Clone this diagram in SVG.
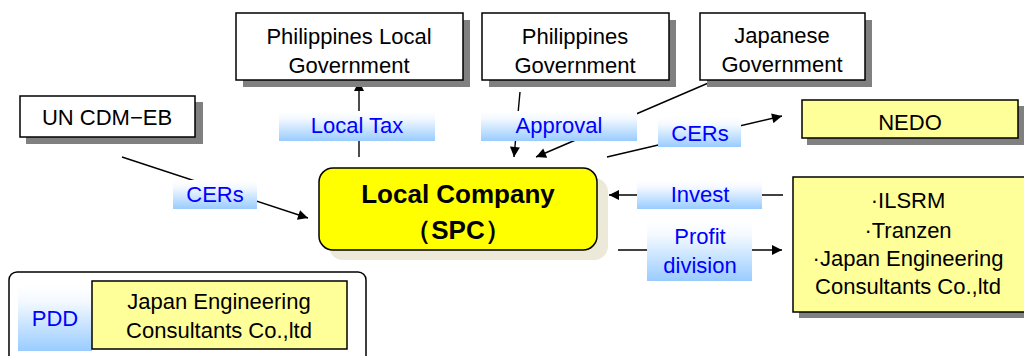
<svg xmlns="http://www.w3.org/2000/svg" width="1024" height="356" viewBox="0 0 1024 356">
<defs>
<linearGradient id="lbl" x1="0" y1="0" x2="0" y2="1">
<stop offset="0" stop-color="#FFFFFF"/>
<stop offset="0.25" stop-color="#F4F9FF"/>
<stop offset="1" stop-color="#99CCFF"/>
</linearGradient>
<marker id="arr" viewBox="0 0 10 10" refX="10" refY="5" markerWidth="11" markerHeight="10" markerUnits="userSpaceOnUse" orient="auto">
<path d="M0,0 L10,5 L0,10 z" fill="#000"/>
</marker>
</defs>
<style>
.box{fill:#FFFFFF;stroke:#000;stroke-width:1.5}
.ybox{fill:#FFFF99;stroke:#000;stroke-width:1.5}
.sh{fill:#808080}
.t{font-family:"Liberation Sans",Arial,sans-serif;font-size:22px;fill:#000;text-anchor:middle}
.b{font-family:"Liberation Sans",Arial,sans-serif;font-size:22px;fill:#0000FF;text-anchor:middle}
.big{font-family:"Liberation Sans",Arial,sans-serif;font-size:26px;font-weight:bold;fill:#000;text-anchor:middle}
.ln{stroke:#000;stroke-width:1.4;fill:none}
.lbl{fill:url(#lbl)}
</style>
<rect width="1024" height="356" fill="#FFFFFF"/>

<g id="connectors">
<line class="ln" x1="359" y1="157" x2="359" y2="81" marker-end="url(#arr)"/>
<line class="ln" x1="520" y1="92" x2="514" y2="157" marker-end="url(#arr)"/>
<line class="ln" x1="713" y1="81" x2="536" y2="157" marker-end="url(#arr)"/>
<line class="ln" x1="607" y1="157" x2="782" y2="116" marker-end="url(#arr)"/>
<line class="ln" x1="122" y1="157" x2="308" y2="218" marker-end="url(#arr)"/>
<line class="ln" x1="783" y1="195" x2="609" y2="195" marker-end="url(#arr)"/>
<line class="ln" x1="618" y1="250" x2="782" y2="250" marker-end="url(#arr)"/>
</g>

<g id="label-localtax">
<rect class="lbl" x="279" y="111" width="156" height="30"/>
<text class="b" x="357" y="133">Local Tax</text>
</g>
<g id="label-approval">
<rect class="lbl" x="481" y="111" width="156" height="30"/>
<text class="b" x="559" y="133">Approval</text>
</g>
<g id="label-cers-nedo">
<rect class="lbl" x="658" y="117" width="83" height="30"/>
<text class="b" x="700" y="141">CERs</text>
</g>
<g id="label-cers-un">
<rect class="lbl" x="173" y="180" width="84" height="29"/>
<text class="b" x="215" y="202">CERs</text>
</g>
<g id="label-invest">
<rect class="lbl" x="637" y="180" width="125" height="29"/>
<text class="b" x="700" y="202">Invest</text>
</g>
<g id="label-profit">
<rect class="lbl" x="647" y="220" width="105" height="61"/>
<text class="b" x="700" y="244">Profit</text>
<text class="b" x="700" y="273">division</text>
</g>

<g id="phil-local-gov">
<rect class="sh" x="243" y="20" width="227" height="67"/>
<rect class="box" x="236" y="13" width="227" height="67"/>
<text class="t" x="349" y="44">Philippines Local</text>
<text class="t" x="349" y="73">Government</text>
</g>
<g id="phil-gov">
<rect class="sh" x="489" y="20" width="187" height="67"/>
<rect class="box" x="482" y="13" width="187" height="67"/>
<text class="t" x="575" y="44">Philippines</text>
<text class="t" x="575" y="73">Government</text>
</g>
<g id="japan-gov">
<rect class="sh" x="707" y="20" width="165" height="67"/>
<rect class="box" x="700" y="13" width="165" height="67"/>
<text class="t" x="782" y="43">Japanese</text>
<text class="t" x="782" y="72">Government</text>
</g>
<g id="un-cdm-eb">
<rect class="sh" x="26" y="102" width="177" height="42"/>
<rect class="box" x="20" y="96" width="175" height="41"/>
<text class="t" x="107" y="125">UN CDM−EB</text>
</g>
<g id="nedo">
<rect class="sh" x="807" y="106" width="217" height="39"/>
<rect class="ybox" x="802" y="100" width="216" height="38"/>
<text class="t" x="910" y="130">NEDO</text>
</g>
<g id="local-company">
<rect x="329" y="178" width="279" height="82" rx="14" fill="#ECE9D8"/>
<rect x="319" y="168" width="278" height="82" rx="14" fill="#FFFF00" stroke="#000" stroke-width="1.5"/>
<text class="big" x="458" y="203">Local Company</text>
<text class="big" x="458" y="239">（SPC）</text>
</g>
<g id="investors">
<rect class="sh" x="799" y="183" width="230" height="135"/>
<rect class="ybox" x="793" y="177" width="235" height="135"/>
<text class="t" x="908" y="208">·ILSRM</text>
<text class="t" x="908" y="238">·Tranzen</text>
<text class="t" x="908" y="266">·Japan Engineering</text>
<text class="t" x="908" y="294">Consultants Co.,ltd</text>
</g>
<g id="pdd">
<rect x="9" y="272" width="357" height="95" rx="8" fill="#FFFFFF" stroke="#000" stroke-width="1.5"/>
<rect class="lbl" x="18" y="285" width="74" height="66"/>
<text class="b" x="55" y="326">PDD</text>
<rect class="ybox" x="92" y="281" width="255" height="68"/>
<text class="t" x="219" y="309">Japan Engineering</text>
<text class="t" x="219" y="338">Consultants Co.,ltd</text>
</g>
</svg>
